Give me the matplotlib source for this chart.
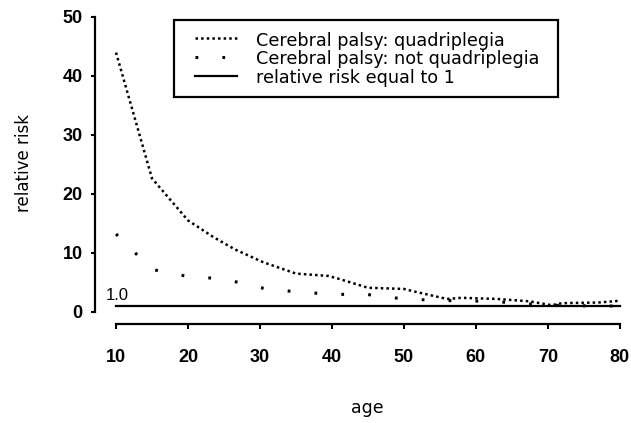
import matplotlib
matplotlib.use("Agg")
import matplotlib.pyplot as plt
from matplotlib.lines import Line2D
from matplotlib.patches import Rectangle

# ---- data ----
age_quad = [10, 15, 20, 23.5, 26.5, 30.5, 35, 39.5, 41, 45, 50, 51.5, 56, 58, 63, 67.5, 70.5, 72, 77, 80]
rr_quad = [43.9, 22.6, 15.5, 12.7, 10.6, 8.4, 6.5, 6.1, 5.6, 4.1, 3.9, 3.45, 2.2, 2.4, 2.2, 1.8, 1.15, 1.5, 1.6, 1.9]

age_notquad = [10, 15, 20, 25, 30, 35, 40, 45, 50, 55, 60, 65, 70, 75, 80]
rr_notquad = [13.2, 7.2, 6.0, 5.6, 4.1, 3.4, 3.0, 2.95, 2.2, 1.95, 1.85, 1.6, 1.15, 1.05, 1.0]

ref_age = [10, 80]
ref_rr = [1, 1]

labels = ["Cerebral palsy: quadriplegia",
          "Cerebral palsy: not quadriplegia",
          "relative risk equal to 1"]
xticks = [10, 20, 30, 40, 50, 60, 70, 80]
yticks = [0, 10, 20, 30, 40, 50]

W, H = 631, 423
fig = plt.figure(figsize=(W / 100, H / 100), dpi=100)

def fx(px):
    return px / W

def fy(py):
    return 1 - py / H

ax_l, ax_r, ax_t, ax_b = 95, 640, 4.7, 324.4
ax = fig.add_axes([fx(ax_l), fy(ax_b), fx(ax_r - ax_l), (ax_b - ax_t) / H])
ax.set_xlim(7.08, 82.8)
ax.set_ylim(-2.1, 52)

styles = [
    dict(color="black", lw=1.8, linestyle=(0, (1.0, 1.25))),
    dict(color="black", lw=2.2, linestyle=(0, (0.9, 7.9))),
    dict(color="black", lw=1.6, linestyle="-"),
]

ax.plot(age_quad, rr_quad, **styles[0])
ax.plot(age_notquad, rr_notquad, **styles[1])
ax.plot(ref_age, ref_rr, **styles[2])

ax.text(8.55, 2.0, "1.0", fontsize=12, family="Liberation Sans",
        ha="left", va="baseline")

for s in ["top", "right"]:
    ax.spines[s].set_visible(False)
ax.spines["left"].set_bounds(0, 50)
ax.spines["bottom"].set_bounds(10, 80)
for s in ["left", "bottom"]:
    ax.spines[s].set_linewidth(1.6)

ax.set_xticks(xticks)
ax.set_yticks(yticks)
ax.tick_params(axis="x", length=3.5, width=1.5, pad=14)
ax.tick_params(axis="y", length=3, width=1.5, pad=6)
for lab in ax.get_xticklabels() + ax.get_yticklabels():
    lab.set_family("Liberation Sans")
    lab.set_fontweight("bold")
    lab.set_fontsize(13)

ax.set_xlabel("age", fontsize=12.5, va="center")
ax.xaxis.set_label_coords((367 - ax_l) / (ax_r - ax_l), (ax_b - 408) / (ax_b - ax_t))
ax.set_ylabel("relative risk", fontsize=12, va="center")
ax.yaxis.set_label_coords((24 - ax_l) / (ax_r - ax_l), (ax_b - 163) / (ax_b - ax_t))

# ---- legend (drawn manually to match the boxed R-style legend) ----
box = Rectangle((fx(174), fy(97)), fx(558 - 174), (97 - 20) / H,
                transform=fig.transFigure, fill=True, facecolor="white",
                edgecolor="black", lw=1.6, zorder=5)
fig.add_artist(box)
row_y = [38.3, 56.7, 75.7]
for st, lab, ry in zip(styles, labels, row_y):
    fig.add_artist(Line2D([fx(195), fx(237)], [fy(ry), fy(ry)],
                          transform=fig.transFigure, zorder=6, **st))
    fig.text(fx(256), fy(ry + 7.5), lab, fontsize=12.7, ha="left",
             va="baseline", zorder=6)

fig.savefig("out.png", dpi=100)
